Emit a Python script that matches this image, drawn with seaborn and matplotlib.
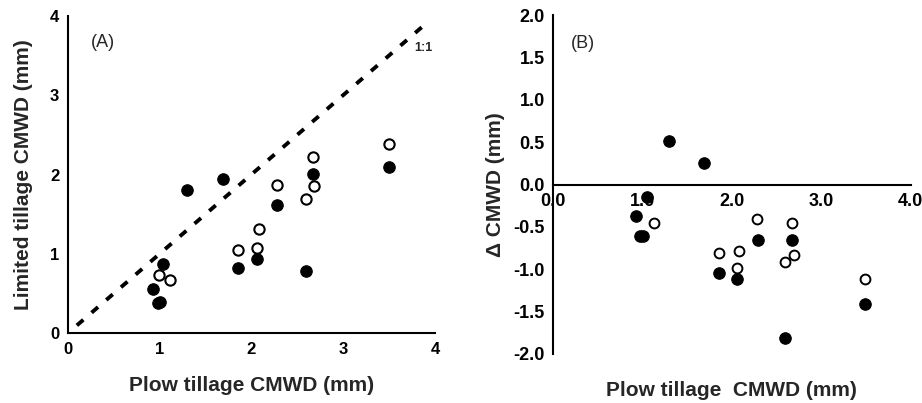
import matplotlib
matplotlib.use("Agg")
import matplotlib.pyplot as plt
import seaborn as sns
import pandas as pd

sns.set_theme(style="white")
plt.rcParams['font.family'] = ['Liberation Sans', 'DejaVu Sans']

# Panel A data
a_filled_x = [0.93, 0.98, 1.01, 1.04, 1.30, 1.69, 1.86, 2.06, 2.28, 2.59, 2.67, 3.50]
a_filled_y = [0.56, 0.38, 0.40, 0.87, 1.81, 1.94, 0.82, 0.94, 1.62, 0.79, 2.01, 2.09]
a_open_x = [0.99, 1.11, 1.86, 2.06, 2.08, 2.28, 2.59, 2.67, 2.68, 3.50]
a_open_y = [0.73, 0.67, 1.05, 1.07, 1.31, 1.87, 1.69, 2.22, 1.86, 2.39]

# Panel B data
b_filled_x = [0.93, 1.05, 0.97, 1.01, 1.30, 1.69, 1.86, 2.06, 2.29, 2.59, 2.67, 3.49]
b_filled_y = [-0.37, -0.15, -0.61, -0.61, 0.51, 0.25, -1.04, -1.12, -0.66, -1.81, -0.66, -1.41]
b_open_x = [1.13, 1.86, 2.08, 2.06, 2.28, 2.59, 2.67, 2.69, 3.49]
b_open_y = [-0.45, -0.81, -0.78, -0.99, -0.41, -0.91, -0.45, -0.83, -1.11]

one_to_one = [0.1, 3.9]

a_ticks = [0, 1, 2, 3, 4]
b_xticks = [0.0, 1.0, 2.0, 3.0, 4.0]
b_yticks = [-2.0, -1.5, -1.0, -0.5, 0.0, 0.5, 1.0, 1.5, 2.0]

fig = plt.figure(figsize=(9.22, 4.03), dpi=100)
axA = fig.add_axes([0.0734, 0.1729, 0.3984, 0.788])
axB = fig.add_axes([0.600, 0.1216, 0.3876, 0.841])

tick_font = dict(fontsize=12, fontweight='bold')
tick_font_b = dict(fontsize=13, fontweight='bold')
label_font = dict(fontsize=15, fontweight='bold')

# ---- Panel A ----
sns.lineplot(x=one_to_one, y=one_to_one, ax=axA, color='black', linewidth=2.8,
             dashes=False, linestyle=(0, (2.2, 2.8)))
sns.scatterplot(x=a_filled_x, y=a_filled_y, ax=axA, color='black', edgecolor='black',
                s=68, linewidth=0.8, zorder=3)
sns.scatterplot(x=a_open_x, y=a_open_y, ax=axA, color='white', edgecolor='black',
                s=55, linewidth=1.5, zorder=3)
axA.set_xlim(0, 4)
axA.set_ylim(0, 4)
axA.set_xticks(a_ticks)
axA.set_yticks(a_ticks)
axA.set_xticklabels([str(t) for t in a_ticks], **tick_font)
axA.set_yticklabels([str(t) for t in a_ticks], **tick_font)
for s in ['top', 'right']:
    axA.spines[s].set_visible(False)
for s in ['left', 'bottom']:
    axA.spines[s].set_linewidth(1.5)
    axA.spines[s].set_color('black')
axA.tick_params(direction='in', length=5, width=1.5, colors='black', pad=6)
axA.set_xlabel('Plow tillage CMWD (mm)', labelpad=14, **label_font)
axA.set_ylabel('Limited tillage CMWD (mm)', labelpad=12, **label_font)
axA.text(0.25, 3.66, '(A)', fontsize=13, ha='left', va='center')
axA.text(3.97, 3.6, '1:1', fontsize=9, fontweight='bold', ha='right', va='center')

# ---- Panel B ----
for s in ['top', 'right']:
    axB.spines[s].set_visible(False)
axB.spines['bottom'].set_position(('data', 0))
sns.scatterplot(x=b_filled_x, y=b_filled_y, ax=axB, color='black', edgecolor='black',
                s=68, linewidth=0.8, zorder=3)
sns.scatterplot(x=b_open_x, y=b_open_y, ax=axB, color='white', edgecolor='black',
                s=50, linewidth=1.4, zorder=3)
axB.set_xlim(0, 4)
axB.set_ylim(-2, 2)
axB.set_xticks(b_xticks)
axB.set_yticks(b_yticks)
axB.set_xticklabels([f'{t:.1f}' for t in b_xticks], **tick_font_b)
axB.set_yticklabels([f'{t:.1f}' for t in b_yticks], **tick_font_b)
for s in ['left', 'bottom']:
    axB.spines[s].set_linewidth(1.5)
    axB.spines[s].set_color('black')
axB.tick_params(direction='in', length=5, width=1.5, colors='black', pad=6)
axB.set_xlabel('Plow tillage  CMWD (mm)', **label_font)
axB.xaxis.set_label_coords(0.5, -0.08)
axB.set_ylabel('\u0394 CMWD (mm)', labelpad=6, **label_font)
axB.text(0.2, 1.67, '(B)', fontsize=13, ha='left', va='center')

fig.savefig('out.png', dpi=100)
